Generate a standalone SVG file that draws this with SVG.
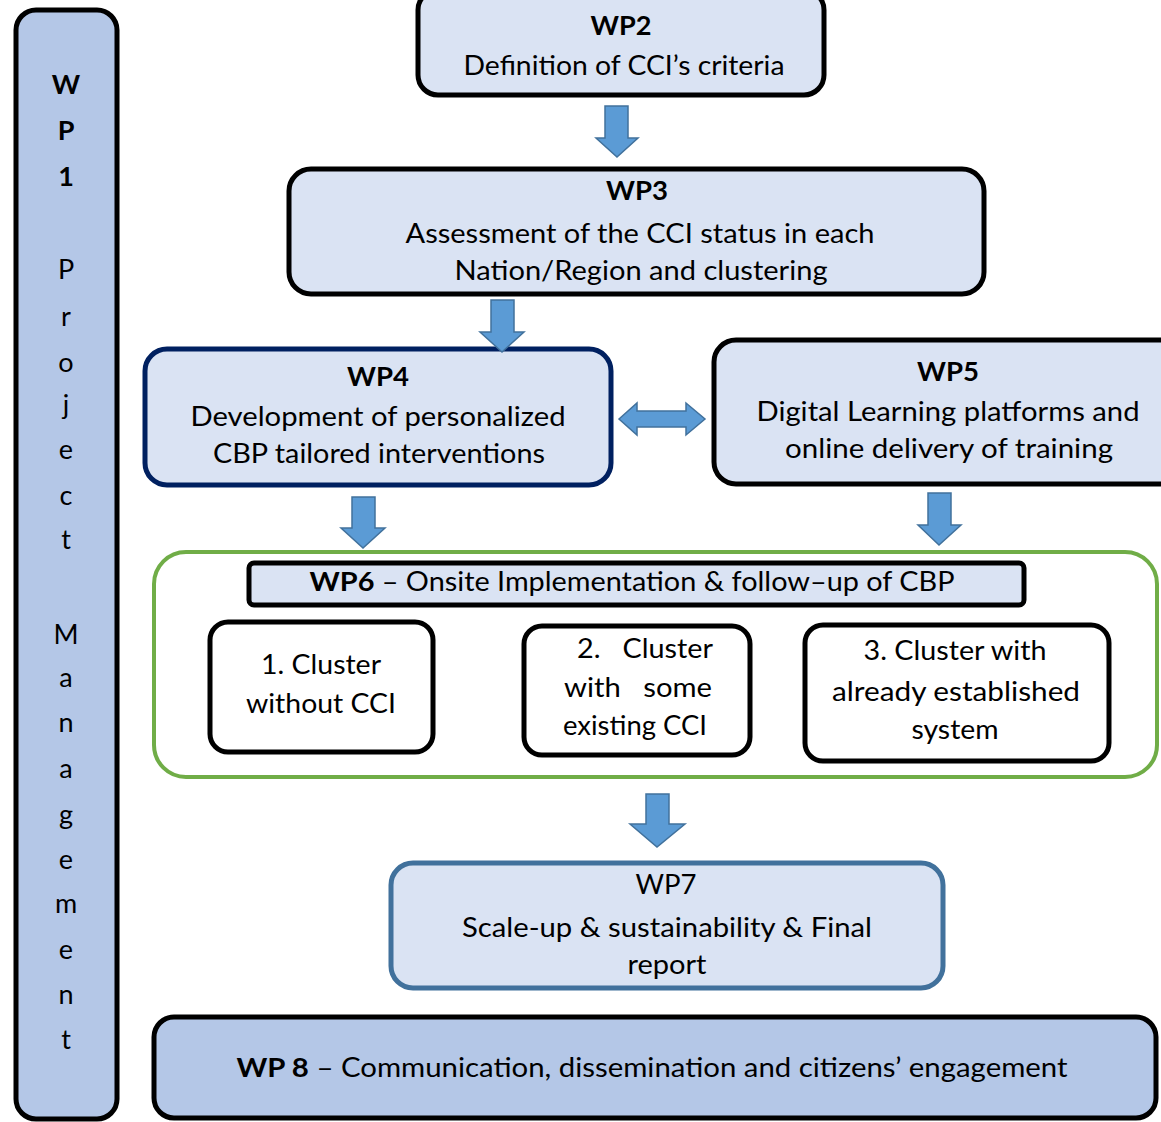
<svg xmlns="http://www.w3.org/2000/svg" width="1161" height="1122" viewBox="0 0 1161 1122">
<defs>
<style>
text{font-family:Lato,"Open Sans","Liberation Sans",sans-serif;font-size:27px;fill:#000;text-anchor:middle}
.b{font-weight:bold}
.box{fill:#dae3f3;stroke:#000;stroke-width:5}
.dark{fill:#b4c7e7;stroke:#000;stroke-width:5}
.wbox{fill:#fff;stroke:#000;stroke-width:5}
.arr{fill:#5b9bd5;stroke:#41719c;stroke-width:1.5}
</style>
</defs>
<rect width="1161" height="1122" fill="#fff"/>
<g id="wp1">
<rect class="dark" x="16" y="10" width="101" height="1109" rx="20"/>
<text class="b" x="66" y="94">W</text>
<text class="b" x="66" y="140">P</text>
<text class="b" x="66" y="186">1</text>
<text x="66" y="279">P</text>
<text x="66" y="326">r</text>
<text x="66" y="372">o</text>
<text x="66" y="414">j</text>
<text x="66" y="459">e</text>
<text x="66" y="505">c</text>
<text x="66" y="549">t</text>
<text x="66" y="644">M</text>
<text x="66" y="687">a</text>
<text x="66" y="732">n</text>
<text x="66" y="778">a</text>
<text x="66" y="824">g</text>
<text x="66" y="869">e</text>
<text x="66" y="913">m</text>
<text x="66" y="959">e</text>
<text x="66" y="1004">n</text>
<text x="66" y="1049">t</text>
</g>
<g id="wp2">
<rect class="box" x="418" y="-10" width="406" height="105" rx="20"/>
<text class="b" x="621" y="35" textLength="61" lengthAdjust="spacingAndGlyphs">WP2</text>
<text x="624" y="75" textLength="321" lengthAdjust="spacingAndGlyphs">Definition of CCI’s criteria</text>
</g>
<g id="wp3">
<rect class="box" x="289" y="169" width="695" height="125" rx="22"/>
<text class="b" x="637" y="200" textLength="62" lengthAdjust="spacingAndGlyphs">WP3</text>
<text x="640" y="243" textLength="469" lengthAdjust="spacingAndGlyphs">Assessment of the CCI status in each</text>
<text x="641" y="280" textLength="373" lengthAdjust="spacingAndGlyphs">Nation/Region and clustering</text>
</g>
<g id="wp4">
<rect class="box" x="145" y="349" width="466" height="136" rx="22" style="stroke:#002060"/>
<text class="b" x="378" y="386" textLength="62" lengthAdjust="spacingAndGlyphs">WP4</text>
<text x="378" y="426" textLength="375" lengthAdjust="spacingAndGlyphs">Development of personalized</text>
<text x="379" y="463" textLength="332" lengthAdjust="spacingAndGlyphs">CBP tailored interventions</text>
</g>
<g id="wp5">
<rect class="box" x="714" y="340" width="470" height="144" rx="22"/>
<text class="b" x="948" y="381" textLength="62" lengthAdjust="spacingAndGlyphs">WP5</text>
<text x="948" y="421" textLength="383" lengthAdjust="spacingAndGlyphs">Digital Learning platforms and</text>
<text x="949" y="458" textLength="328" lengthAdjust="spacingAndGlyphs">online delivery of training</text>
</g>
<g id="wp6">
<rect x="154" y="552" width="1003" height="225" rx="32" fill="#fff" stroke="#70ad47" stroke-width="4"/>
<rect class="box" x="249" y="563" width="775" height="42" rx="5"/>
<text x="632" y="591" textLength="645" lengthAdjust="spacingAndGlyphs"><tspan class="b">WP6</tspan> – Onsite Implementation &amp; follow–up of CBP</text>
</g>
<g id="c1">
<rect class="wbox" x="210" y="622" width="223" height="130" rx="18"/>
<text x="321" y="674" textLength="120" lengthAdjust="spacingAndGlyphs">1. Cluster</text>
<text x="321" y="713" textLength="150" lengthAdjust="spacingAndGlyphs">without CCI</text>
</g>
<g id="c2">
<rect class="wbox" x="524" y="626" width="226" height="129" rx="18"/>
<text xml:space="preserve" x="645" y="658" textLength="136" lengthAdjust="spacingAndGlyphs">2.   Cluster</text>
<text xml:space="preserve" x="638" y="697" textLength="148" lengthAdjust="spacingAndGlyphs">with   some</text>
<text x="635" y="735" textLength="144" lengthAdjust="spacingAndGlyphs">existing CCI</text>
</g>
<g id="c3">
<rect class="wbox" x="805" y="625" width="304" height="136" rx="18"/>
<text x="955" y="660" textLength="183" lengthAdjust="spacingAndGlyphs">3. Cluster with</text>
<text x="956" y="701" textLength="248" lengthAdjust="spacingAndGlyphs">already established</text>
<text x="955" y="739" textLength="87" lengthAdjust="spacingAndGlyphs">system</text>
</g>
<g id="wp7">
<rect class="box" x="391" y="863" width="552" height="125" rx="22" style="stroke:#41719c"/>
<text x="666" y="894" textLength="61" lengthAdjust="spacingAndGlyphs">WP7</text>
<text x="667" y="937" textLength="410" lengthAdjust="spacingAndGlyphs">Scale-up &amp; sustainability &amp; Final</text>
<text x="667" y="974" textLength="79" lengthAdjust="spacingAndGlyphs">report</text>
</g>
<g id="wp8">
<rect class="dark" x="154" y="1017" width="1002" height="101" rx="20"/>
<text x="652" y="1077" textLength="831" lengthAdjust="spacingAndGlyphs"><tspan class="b">WP 8</tspan> – Communication, dissemination and citizens’ engagement</text>
</g>
<g id="connectors">
<path class="arr" d="M605,106 H628 V138 H638 L617,157 L596,138 H605 Z"/>
<path class="arr" d="M491,300 H514 V332 H524 L502,352 L480,332 H491 Z"/>
<path class="arr" d="M352,497 H375 V528 H385 L363,548 L341,528 H352 Z"/>
<path class="arr" d="M928,493 H951 V525 H961 L939,545 L918,525 H928 Z"/>
<path class="arr" d="M646,794 H669 V824 H685 L657,847 L630,824 H646 Z"/>
<path class="arr" d="M619,419 L637,403 V411 H686 V403 L705,419 L686,435 V427 H637 V435 Z"/>
</g>
</svg>
